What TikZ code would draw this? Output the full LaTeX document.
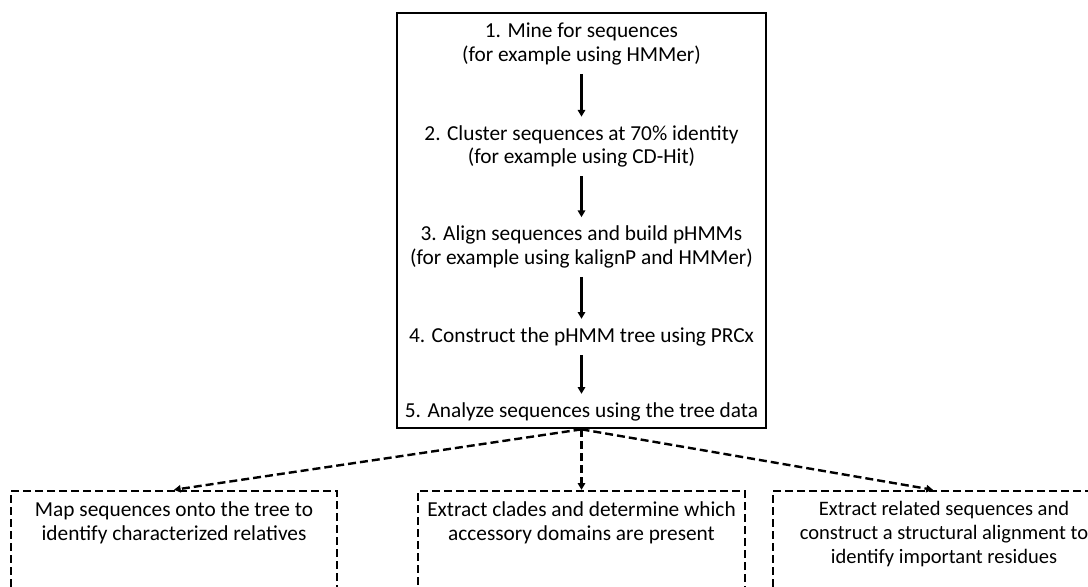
\documentclass[tikz,border=0pt]{standalone}
\usepackage{fontspec}
\setmainfont{Carlito}
\usetikzlibrary{arrows.meta}

\begin{document}
\begin{tikzpicture}[x=0.75pt,y=-0.75pt,
   font=\fontsize{16}{17.5}\selectfont]
   \useasboundingbox (0,0) rectangle (1088,586);
   \clip (0,0) rectangle (1088,586);
   % main box with the five steps
   \node[draw=black,line width=2pt,minimum width=276.75pt,minimum height=311.25pt] (main) at (581.5,220.5) {};
   \begin{scope}[every node/.style={align=center,inner sep=0pt}]
    \node (s1) at (581.5,44) {1. Mine for sequences\\(for example using HMMer)};
    \node (s2) at (581.5,146.5) {2. Cluster sequences at 70\% identity\\(for example using CD-Hit)};
    \node (s3) at (581.5,247) {3. Align sequences and build pHMMs\\(for example using kalignP and HMMer)};
    \node (s4) at (581.5,337) {4. Construct the pHMM tree using PRCx};
    \node (s5) at (581.5,412) {5. Analyze sequences using the tree data};
   \end{scope}
   \begin{scope}[every edge/.style={draw=black,line width=2pt,-{Triangle[length=5pt,width=5.5pt]},shorten <=6.5pt,shorten >=6.5pt}]
    \draw (s1) edge (s2);
    \draw (s2) edge (s3);
    \draw (s3) edge (s4);
    \draw (s4) edge (s5);
   \end{scope}
   % dashed follow-up boxes
   \begin{scope}[every node/.style={draw=black,dashed,line width=1.8pt,dash pattern=on 6pt off 3pt,minimum height=120pt}]
    \node[minimum width=244.5pt] (b1) at (174,571) {};
    \node[minimum width=245.25pt] (b2) at (581.5,571) {};
    \node[minimum width=240pt] (b3) at (933,571) {};
   \end{scope}
   \begin{scope}[every node/.style={align=center,inner sep=0pt,anchor=north,font=\fontsize{16}{18}\selectfont}]
    \node (t1) at (174,501) {Map sequences onto the tree to\\identify characterized relatives};
    \node (t2) at (581.5,501) {Extract clades and determine which\\accessory domains are present};
    \node[font=\fontsize{15.4}{18}\selectfont] (t3) at (944,501) {Extract related sequences and\\construct a structural alignment to\\identify important residues};
   \end{scope}
   \begin{scope}[every edge/.style={draw=black,line width=1.8pt,dash pattern=on 6pt off 3pt,-{Triangle[length=5pt,width=5.5pt]}}]
    \draw (main.south) edge (b1.north);
    \draw (main.south) edge (b2.north);
    \draw (main.south) edge (b3.north);
   \end{scope}
\end{tikzpicture}
\end{document}
